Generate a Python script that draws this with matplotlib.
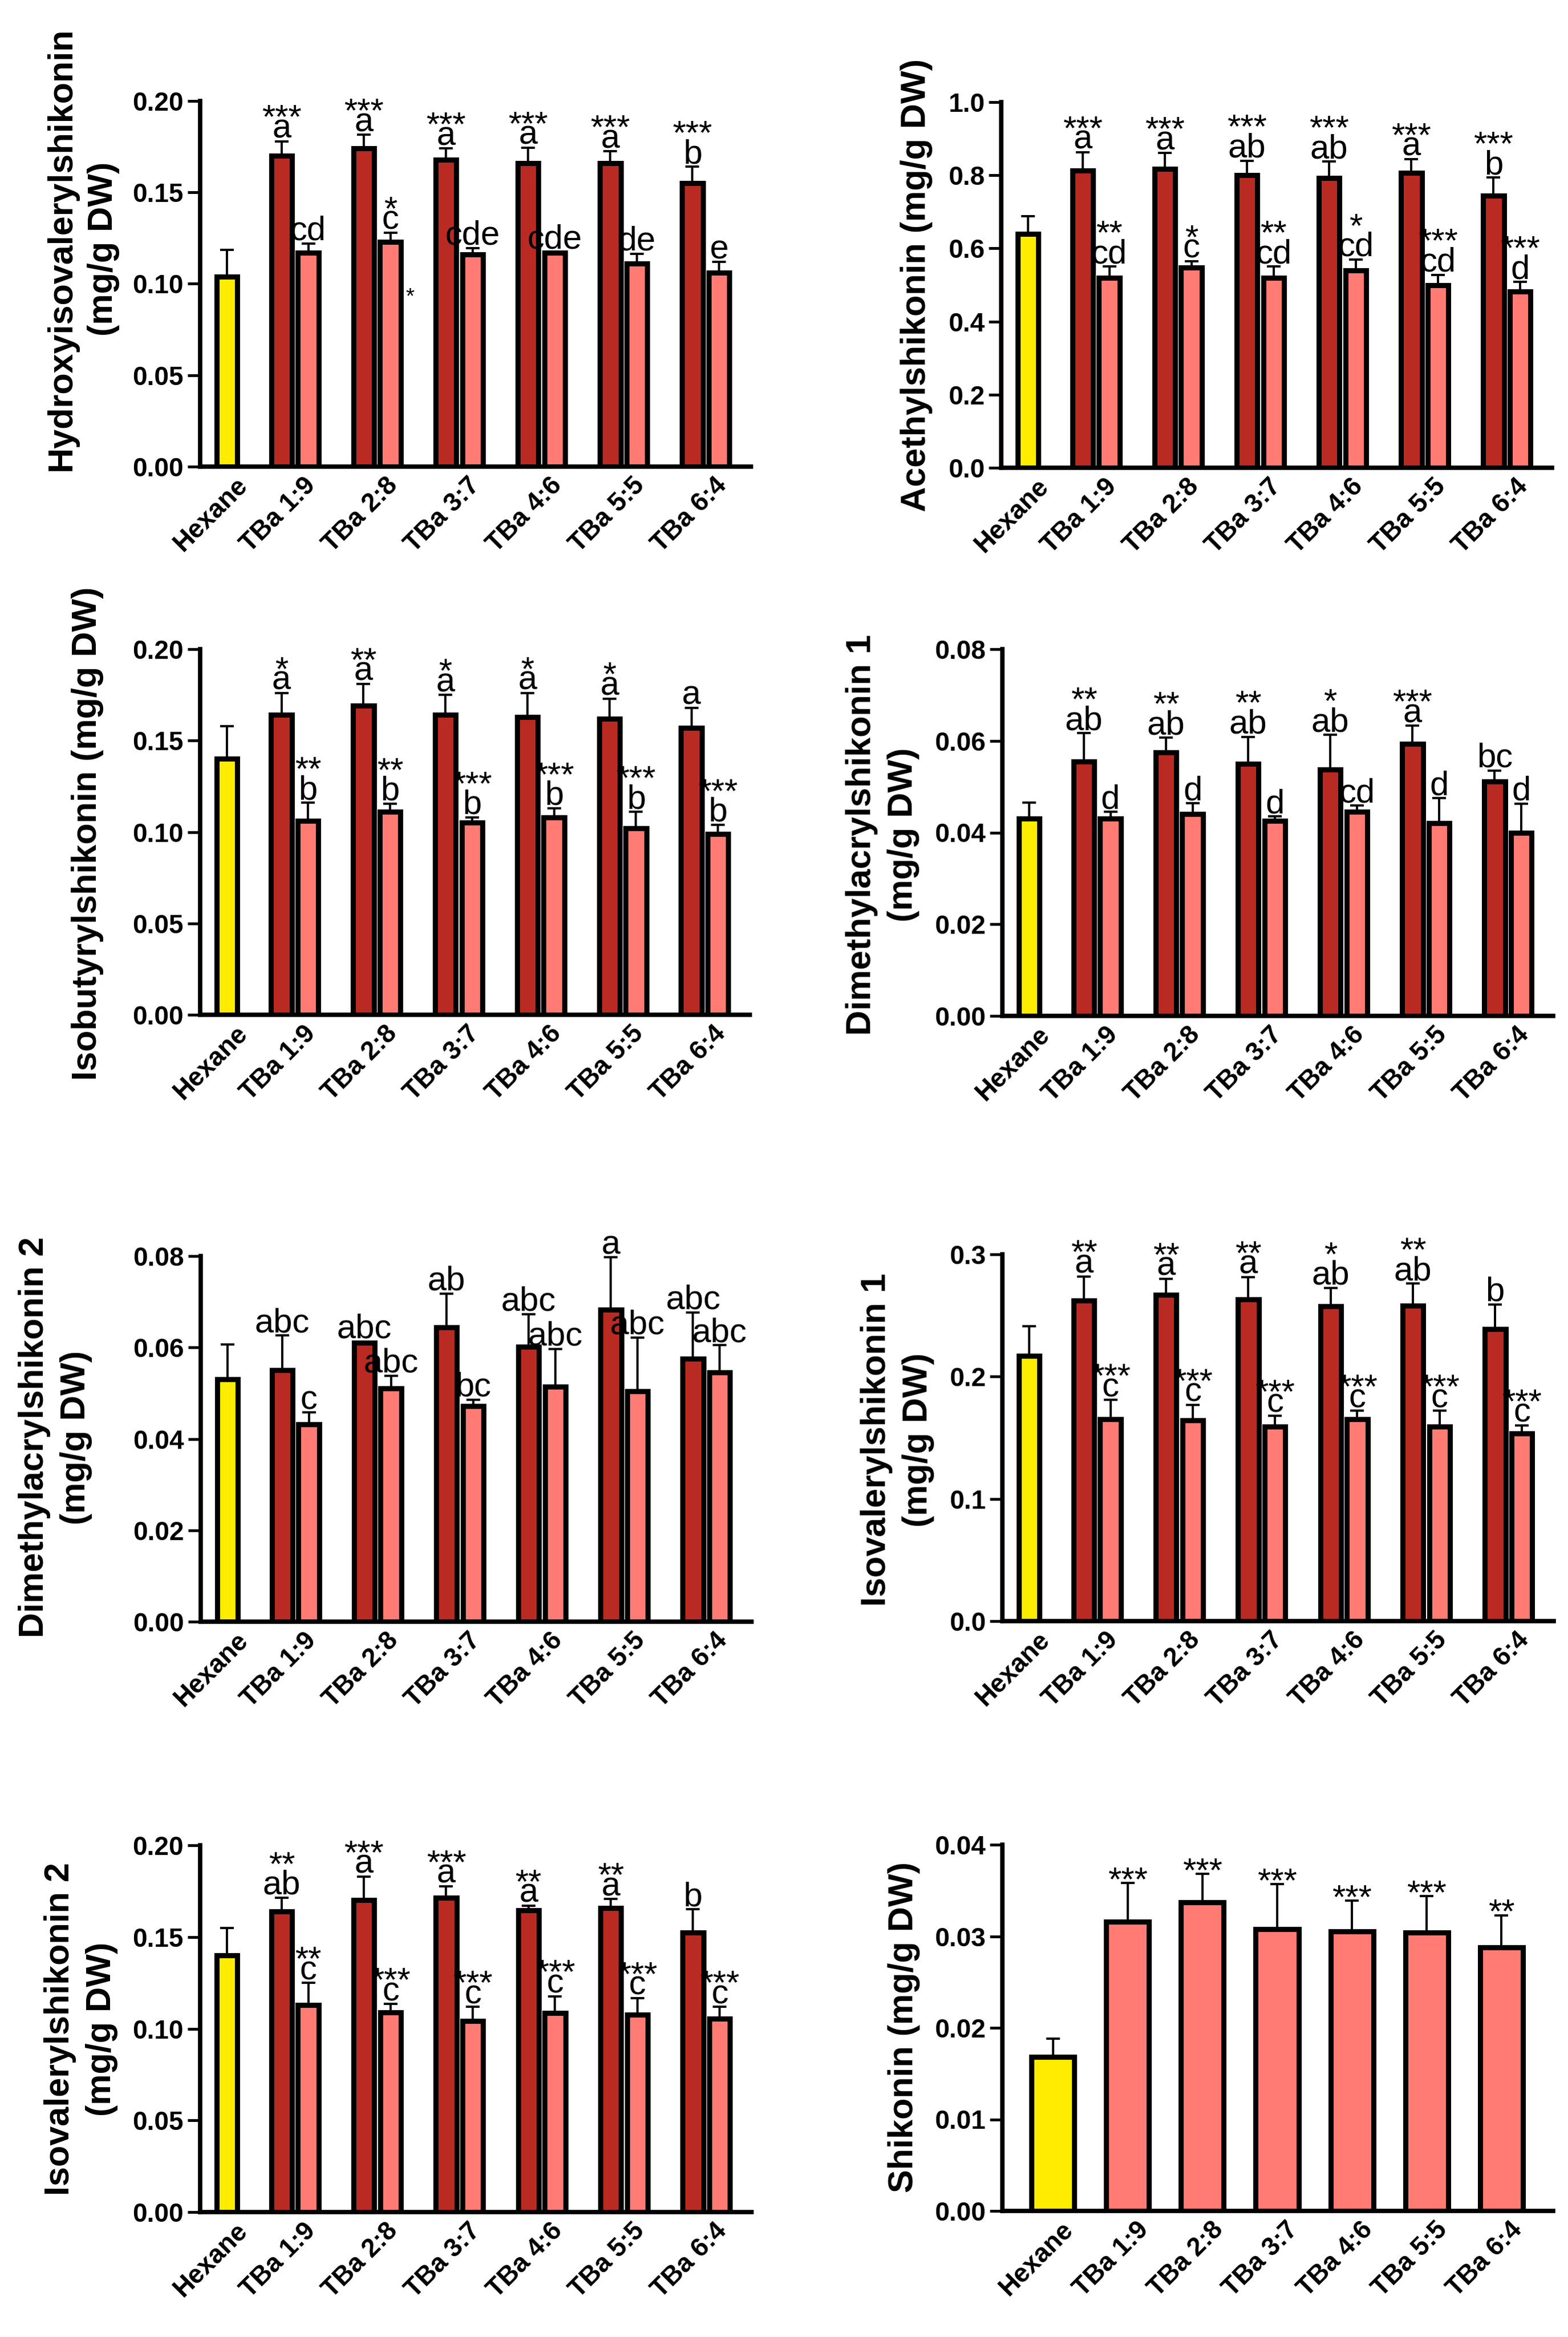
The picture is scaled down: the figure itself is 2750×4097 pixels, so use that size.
import numpy as np
import matplotlib
matplotlib.use('Agg')
import matplotlib.pyplot as plt
from matplotlib.ticker import FormatStrFormatter, MultipleLocator
from matplotlib.transforms import ScaledTranslation
from matplotlib.font_manager import FontProperties

plt.rcParams['font.family'] = ['Liberation Sans', 'DejaVu Sans']

FIG_W, FIG_H, DPI = 2750, 4097, 100

categories = ['Hexane', 'TBa 1:9', 'TBa 2:8', 'TBa 3:7', 'TBa 4:6', 'TBa 5:5', 'TBa 6:4']

# ---------------- Panel 1: Hydroxyisovalerylshikonin ----------------
hiv_hexane = 0.104
hiv_hexane_err = 0.0146
hiv_dark = [0.170, 0.174, 0.168, 0.166, 0.166, 0.155]
hiv_dark_err = [0.008, 0.0075, 0.006, 0.0085, 0.0065, 0.009]
hiv_light = [0.117, 0.123, 0.116, 0.117, 0.111, 0.106]
hiv_light_err = [0.005, 0.005, 0.0036, 0.0006, 0.0055, 0.006]
hiv_dark_sig = ['***', '***', '***', '***', '***', '***']
hiv_dark_let = ['a', 'a', 'a', 'a', 'a', 'b']
hiv_light_sig = ['', '*', '', '', '', '']
hiv_light_let = ['cd', 'c', 'cde', 'cde', 'de', 'e']

# ---------------- Panel 2: Acethylshikonin ----------------
ace_hexane = 0.64
ace_hexane_err = 0.048
ace_dark = [0.813, 0.818, 0.800, 0.792, 0.807, 0.744]
ace_dark_err = [0.050, 0.043, 0.040, 0.045, 0.037, 0.050]
ace_light = [0.520, 0.547, 0.520, 0.540, 0.500, 0.482]
ace_light_err = [0.030, 0.018, 0.030, 0.030, 0.028, 0.026]
ace_dark_sig = ['***', '***', '***', '***', '***', '***']
ace_dark_let = ['a', 'a', 'ab', 'ab', 'a', 'b']
ace_light_sig = ['**', '*', '**', '*', '***', '***']
ace_light_let = ['cd', 'c', 'cd', 'cd', 'cd', 'd']

# ---------------- Panel 3: Isobutyrylshikonin ----------------
ibu_hexane = 0.140
ibu_hexane_err = 0.018
ibu_dark = [0.164, 0.169, 0.164, 0.163, 0.162, 0.157]
ibu_dark_err = [0.012, 0.012, 0.011, 0.013, 0.011, 0.011]
ibu_light = [0.106, 0.111, 0.105, 0.108, 0.102, 0.099]
ibu_light_err = [0.010, 0.0045, 0.003, 0.005, 0.009, 0.005]
ibu_dark_sig = ['*', '**', '*', '*', '*', '']
ibu_dark_let = ['a', 'a', 'a', 'a', 'a', 'a']
ibu_light_sig = ['**', '**', '***', '***', '***', '***']
ibu_light_let = ['b', 'b', 'b', 'b', 'b', 'b']

# ---------------- Panel 4: Dimethylacrylshikonin 1 ----------------
dm1_hexane = 0.043
dm1_hexane_err = 0.0035
dm1_dark = [0.0555, 0.0575, 0.0550, 0.0537, 0.0593, 0.0511]
dm1_dark_err = [0.0062, 0.0032, 0.0059, 0.0076, 0.0040, 0.0024]
dm1_light = [0.0430, 0.0440, 0.0425, 0.0445, 0.0420, 0.0400]
dm1_light_err = [0.0015, 0.0024, 0.0010, 0.0014, 0.0055, 0.0063]
dm1_dark_sig = ['**', '**', '**', '*', '***', '']
dm1_dark_let = ['ab', 'ab', 'ab', 'ab', 'a', 'bc']
dm1_light_sig = ['', '', '', '', '', '']
dm1_light_let = ['d', 'd', 'd', 'cd', 'd', 'd']

# ---------------- Panel 5: Dimethylacrylshikonin 2 ----------------
dm2_hexane = 0.053
dm2_hexane_err = 0.0077
dm2_dark = [0.0550, 0.0610, 0.0644, 0.0602, 0.0683, 0.0575]
dm2_dark_err = [0.0076, 0.0003, 0.0074, 0.0071, 0.0114, 0.0102]
dm2_light = [0.0432, 0.0510, 0.0472, 0.0514, 0.0504, 0.0546]
dm2_light_err = [0.0026, 0.0028, 0.0014, 0.0083, 0.0118, 0.0059]
dm2_dark_sig = ['', '', '', '', '', '']
dm2_dark_let = ['abc', 'abc', 'ab', 'abc', 'a', 'abc']
dm2_light_sig = ['', '', '', '', '', '']
dm2_light_let = ['c', 'abc', 'bc', 'abc', 'abc', 'abc']

# ---------------- Panel 6: Isovalerylshikonin 1 ----------------
iv1_hexane = 0.217
iv1_hexane_err = 0.024
iv1_dark = [0.262, 0.267, 0.263, 0.2575, 0.258, 0.239]
iv1_dark_err = [0.020, 0.013, 0.0185, 0.015, 0.018, 0.020]
iv1_light = [0.165, 0.164, 0.159, 0.165, 0.159, 0.1535]
iv1_light_err = [0.016, 0.013, 0.009, 0.007, 0.013, 0.0066]
iv1_dark_sig = ['**', '**', '**', '*', '**', '']
iv1_dark_let = ['a', 'a', 'a', 'ab', 'ab', 'b']
iv1_light_sig = ['***', '***', '***', '***', '***', '***']
iv1_light_let = ['c', 'c', 'c', 'c', 'c', 'c']

# ---------------- Panel 7: Isovalerylshikonin 2 ----------------
iv2_hexane = 0.140
iv2_hexane_err = 0.015
iv2_dark = [0.164, 0.170, 0.1713, 0.1645, 0.1657, 0.1523]
iv2_dark_err = [0.0075, 0.013, 0.0064, 0.0026, 0.005, 0.0128]
iv2_light = [0.113, 0.109, 0.1043, 0.1087, 0.1075, 0.1053]
iv2_light_err = [0.012, 0.0045, 0.0076, 0.009, 0.0092, 0.0066]
iv2_dark_sig = ['**', '***', '***', '**', '**', '']
iv2_dark_let = ['ab', 'a', 'a', 'a', 'a', 'b']
iv2_light_sig = ['**', '***', '***', '***', '***', '***']
iv2_light_let = ['c', 'c', 'c', 'c', 'c', 'c']

# ---------------- Panel 8: Shikonin ----------------
shi_values = [0.0168, 0.0316, 0.0337, 0.0308, 0.0305, 0.0304, 0.0288]
shi_err = [0.0020, 0.0042, 0.0031, 0.0049, 0.0034, 0.0040, 0.0035]
shi_sig = ['', '***', '***', '***', '***', '***', '**']

YELLOW = '#FFEC00'
DARK = '#B92B22'
LIGHT = '#FF7B73'

fig = plt.figure(figsize=(FIG_W / DPI, FIG_H / DPI), dpi=DPI)

ASCENDERS = set('bdfhklt')
FS_LET = 43
FS_TICK = 33
FS_LABEL = 44

# font metrics of "lp" (used by matplotlib for multi-line spacing)
_renderer = fig.canvas.get_renderer()
_fp = FontProperties(family=['Liberation Sans', 'DejaVu Sans'], size=FS_LET)
_lw, _lh, _ld = _renderer.get_text_width_height_descent('lp', _fp, ismath=False)
LP_ASC = _lh - _ld
LP_DESC = _ld


def make_axes(left, top, right, bottom):
    return fig.add_axes([left / FIG_W, 1 - bottom / FIG_H,
                         (right - left) / FIG_W, (bottom - top) / FIG_H])


def style_axes(ax, ymax, step, fmt, xticks):
    ax.set_ylim(0, ymax)
    ax.yaxis.set_major_locator(MultipleLocator(step))
    ax.yaxis.set_major_formatter(FormatStrFormatter(fmt))
    for s in ['top', 'right']:
        ax.spines[s].set_visible(False)
    for s in ['left', 'bottom']:
        ax.spines[s].set_linewidth(5.5)
        ax.spines[s].set_capstyle('projecting')
    ax.tick_params(axis='y', length=16, width=3.5, pad=5, labelsize=FS_TICK)
    ax.tick_params(axis='x', length=0, pad=8, labelsize=FS_TICK)
    ax.set_xticks(xticks)
    ax.set_xticklabels(categories, rotation=45, ha='right', va='top',
                       rotation_mode='anchor', fontweight='bold')
    for lab in ax.get_yticklabels():
        lab.set_fontweight('bold')
    shift = ScaledTranslation(14 / DPI, 0, fig.dpi_scale_trans)
    for lab in ax.get_xticklabels():
        lab.set_transform(lab.get_transform() + shift)


def annotate_bar(ax, x, cap, letter, sig):
    base = 6  # letter baseline above the error-bar cap (px)
    if letter and sig:
        gap = 34 if any(c in ASCENDERS for c in letter) else 17
        ls = max((gap - LP_DESC) / LP_ASC, 0.02)
        ax.annotate(sig + '\n' + letter, (x, cap), xytext=(0, base - LP_DESC),
                    textcoords='offset pixels', ha='center', va='bottom',
                    multialignment='center', linespacing=ls, fontsize=FS_LET)
    elif letter:
        ax.annotate(letter, (x, cap), xytext=(0, base), textcoords='offset pixels',
                    ha='center', va='baseline', fontsize=FS_LET)
    elif sig:
        ax.annotate(sig, (x, cap), xytext=(0, -13), textcoords='offset pixels',
                    ha='center', va='baseline', fontsize=FS_LET)


def draw_bars(ax, x, vals, errs, color, width):
    vals = np.asarray(vals, dtype=float)
    errs = np.asarray(errs, dtype=float)
    ax.bar(x, vals, width=width, color=color, edgecolor='black', linewidth=6.5, zorder=3)
    ax.errorbar(x, vals, yerr=[np.zeros_like(errs), errs], fmt='none', ecolor='black',
                elinewidth=2.8, capsize=8.5, capthick=2.8, zorder=2)


def grouped_panel(rect, hexv, hexe, dark, darke, light, lighte,
                  dsig, dlet, lsig, llet, ymax, step, fmt, label, label_xy):
    ax = make_axes(*rect)
    hex_x = 0.174
    gx = np.arange(1, 7)
    off = 0.162
    w = 0.253
    draw_bars(ax, [hex_x], [hexv], [hexe], YELLOW, w)
    draw_bars(ax, gx - off, dark, darke, DARK, w)
    draw_bars(ax, gx + off, light, lighte, LIGHT, w)
    ax.set_xlim(-0.153, 6.55)
    style_axes(ax, ymax, step, fmt, np.concatenate([[hex_x], gx]))
    for i in range(6):
        annotate_bar(ax, gx[i] - off, dark[i] + darke[i], dlet[i], dsig[i])
        annotate_bar(ax, gx[i] + off, light[i] + lighte[i], llet[i], lsig[i])
    fig.text(label_xy[0] / FIG_W, 1 - label_xy[1] / FIG_H, label, rotation=90,
             ha='center', va='center', multialignment='center', fontsize=FS_LABEL,
             fontweight='bold', linespacing=1.35)
    return ax


ax1 = grouped_panel((351, 177, 1317, 818), hiv_hexane, hiv_hexane_err, hiv_dark, hiv_dark_err,
                    hiv_light, hiv_light_err, hiv_dark_sig, hiv_dark_let, hiv_light_sig,
                    hiv_light_let, 0.20, 0.05, '%.2f',
                    'Hydroxyisovalerylshikonin\n(mg/g DW)', (145, 436))
# small stray asterisk present in the original figure
ax1.text(2.40, 0.0925, '*', fontsize=28, ha='center', va='center')

grouped_panel((1756, 179, 2722, 820), ace_hexane, ace_hexane_err, ace_dark, ace_dark_err,
              ace_light, ace_light_err, ace_dark_sig, ace_dark_let, ace_light_sig,
              ace_light_let, 1.0, 0.2, '%.1f',
              'Acethylshikonin (mg/g DW)', (1608, 500))

grouped_panel((351, 1138, 1315, 1779), ibu_hexane, ibu_hexane_err, ibu_dark, ibu_dark_err,
              ibu_light, ibu_light_err, ibu_dark_sig, ibu_dark_let, ibu_light_sig,
              ibu_light_let, 0.20, 0.05, '%.2f',
              'Isobutyrylshikonin (mg/g DW)', (154, 1461))

grouped_panel((1758, 1138, 2724, 1781), dm1_hexane, dm1_hexane_err, dm1_dark, dm1_dark_err,
              dm1_light, dm1_light_err, dm1_dark_sig, dm1_dark_let, dm1_light_sig,
              dm1_light_let, 0.08, 0.02, '%.2f',
              'Dimethylacrylshikonin 1\n(mg/g DW)', (1548, 1463))

grouped_panel((352, 2202, 1318, 2843), dm2_hexane, dm2_hexane_err, dm2_dark, dm2_dark_err,
              dm2_light, dm2_light_err, dm2_dark_sig, dm2_dark_let, dm2_light_sig,
              dm2_light_let, 0.08, 0.02, '%.2f',
              'Dimethylacrylshikonin 2\n(mg/g DW)', (97, 2520))

grouped_panel((1758, 2199, 2725, 2842), iv1_hexane, iv1_hexane_err, iv1_dark, iv1_dark_err,
              iv1_light, iv1_light_err, iv1_dark_sig, iv1_dark_let, iv1_light_sig,
              iv1_light_let, 0.3, 0.1, '%.1f',
              'Isovalerylshikonin 1\n(mg/g DW)', (1574, 2524))

grouped_panel((351, 3235, 1318, 3878), iv2_hexane, iv2_hexane_err, iv2_dark, iv2_dark_err,
              iv2_light, iv2_light_err, iv2_dark_sig, iv2_dark_let, iv2_light_sig,
              iv2_light_let, 0.20, 0.05, '%.2f',
              'Isovalerylshikonin 2\n(mg/g DW)', (142, 3557))

# Shikonin panel (single bars)
ax8 = make_axes(1758, 3234, 2724, 3876)
sx = np.arange(7)
draw_bars(ax8, sx[:1], shi_values[:1], shi_err[:1], YELLOW, 0.573)
draw_bars(ax8, sx[1:], shi_values[1:], shi_err[1:], LIGHT, 0.573)
ax8.set_xlim(-0.675, 6.69)
style_axes(ax8, 0.04, 0.01, '%.2f', sx)
for i in range(7):
    annotate_bar(ax8, sx[i], shi_values[i] + shi_err[i], '', shi_sig[i])
fig.text(1585 / FIG_W, 1 - 3554 / FIG_H, 'Shikonin (mg/g DW)', rotation=90,
         ha='center', va='center', fontsize=FS_LABEL, fontweight='bold')

fig.savefig('out.png', dpi=DPI, facecolor='white')
